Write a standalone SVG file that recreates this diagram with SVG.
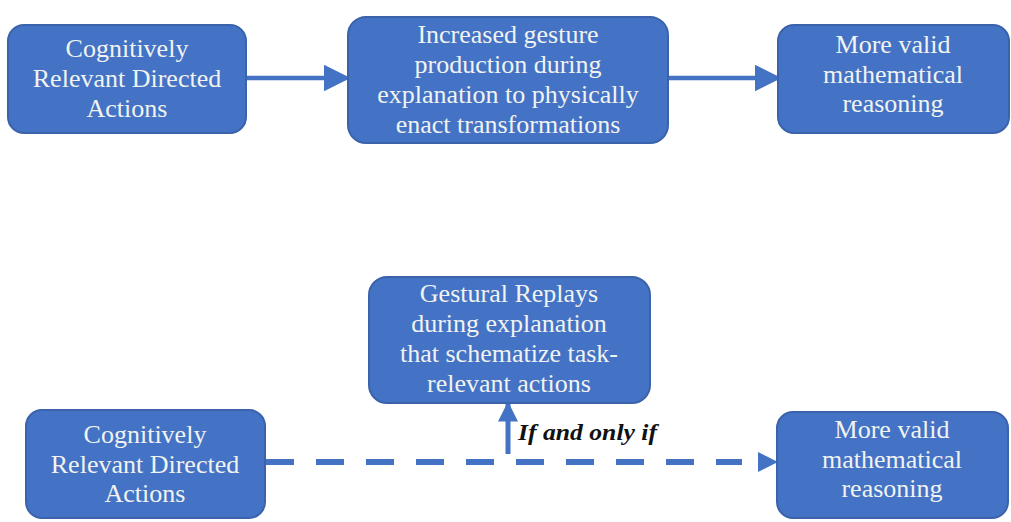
<svg xmlns="http://www.w3.org/2000/svg" width="1011" height="522" viewBox="0 0 1011 522">
<defs>
<style>
.box{fill:#4472C4;stroke:#3A63AC;stroke-width:2}
.t{font-family:"Liberation Serif","Times New Roman",serif;font-size:26px;fill:#F1F3F1;text-anchor:middle}
.lbl{font-family:"Liberation Serif","Times New Roman",serif;font-size:23px;font-weight:bold;font-style:italic;fill:#111}
.ln{stroke:#4472C4;fill:none}
</style>
<marker id="ah" markerWidth="6" markerHeight="6" refX="5" refY="3" orient="auto" markerUnits="strokeWidth">
<path d="M0,0 L6,3 L0,6 Z" fill="#4472C4"/>
</marker>
<marker id="ah2" markerWidth="4" markerHeight="4" refX="3.5" refY="2" orient="auto" markerUnits="strokeWidth">
<path d="M0,0 L4,2 L0,4 Z" fill="#4472C4"/>
</marker>
</defs>
<rect width="1011" height="522" fill="#FFFFFF"/>
<g id="connectors">
<line class="ln" x1="247" y1="78" x2="346" y2="78" stroke-width="4.5" marker-end="url(#ah)"/>
<line class="ln" x1="669" y1="78" x2="777" y2="78" stroke-width="4.5" marker-end="url(#ah)"/>
<line class="ln" x1="266" y1="462" x2="742" y2="462" stroke-width="6" stroke-dasharray="28 22"/>
<path d="M758,452 L778,462 L758,472 Z" fill="#4472C4"/>
<line class="ln" x1="508" y1="454" x2="508" y2="404" stroke-width="5" marker-end="url(#ah2)"/>
<text class="lbl" x="518" y="440" textLength="139" lengthAdjust="spacingAndGlyphs">If and only if</text>
</g>
<g id="node-cog-top">
<rect class="box" x="8" y="25" width="238" height="108" rx="16"/>
<text class="t" x="127" y="57">Cognitively</text>
<text class="t" x="127" y="87">Relevant Directed</text>
<text class="t" x="127" y="117">Actions</text>
</g>
<g id="node-increased">
<rect class="box" x="348" y="17" width="320" height="126" rx="18"/>
<text class="t" x="508" y="43">Increased gesture</text>
<text class="t" x="508" y="73">production  during</text>
<text class="t" x="508" y="103">explanation  to physically</text>
<text class="t" x="508" y="133">enact transformations</text>
</g>
<g id="node-valid-top">
<rect class="box" x="778" y="25" width="231" height="108" rx="16"/>
<text class="t" x="893" y="53">More valid</text>
<text class="t" x="893" y="83">mathematical</text>
<text class="t" x="893" y="112">reasoning</text>
</g>
<g id="node-gestural">
<rect class="box" x="369" y="277" width="281" height="126" rx="18"/>
<text class="t" x="509" y="302">Gestural Replays</text>
<text class="t" x="509" y="332">during  explanation</text>
<text class="t" x="509" y="362">that schematize task-</text>
<text class="t" x="509" y="392">relevant actions</text>
</g>
<g id="node-cog-bottom">
<rect class="box" x="26" y="410" width="239" height="108" rx="16"/>
<text class="t" x="145" y="443">Cognitively</text>
<text class="t" x="145" y="473">Relevant Directed</text>
<text class="t" x="145" y="502">Actions</text>
</g>
<g id="node-valid-bottom">
<rect class="box" x="777" y="412" width="231" height="106" rx="16"/>
<text class="t" x="892" y="438">More valid</text>
<text class="t" x="892" y="468">mathematical</text>
<text class="t" x="892" y="497">reasoning</text>
</g>
</svg>
